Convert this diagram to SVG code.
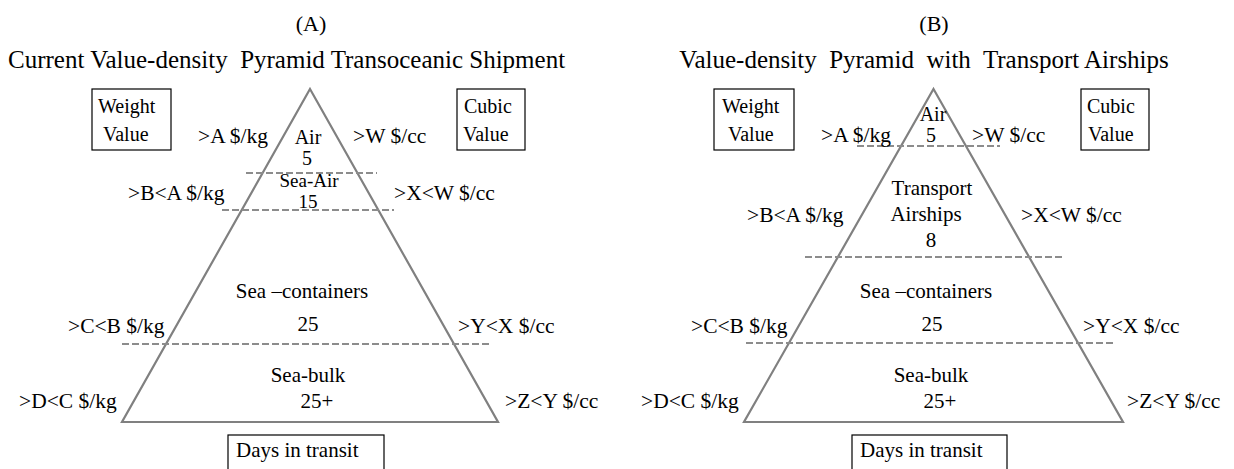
<svg xmlns="http://www.w3.org/2000/svg" width="1234" height="469" viewBox="0 0 1234 469" font-family="'Liberation Serif', 'Times New Roman', Times, serif">
<style>
text{font-family:'Liberation Serif','Times New Roman',Times,serif;fill:#000;white-space:pre}
.hd{font-size:22px;text-anchor:middle}
.tt{font-size:25px}
.lb{font-size:21px}
.sm{font-size:20px}
.xs{font-size:19px}
.sl{font-size:21.5px}
.bx{font-size:20px}
.c{text-anchor:middle}
.box{fill:#fff;stroke:#000;stroke-width:1.2}
.tri{fill:none;stroke:#808080;stroke-width:2.2;stroke-linejoin:miter}
.dash{fill:none;stroke:#8c8c8c;stroke-width:2.2;stroke-dasharray:7 3}
</style>
<rect width="1234" height="469" fill="#fff"/>

<!-- Panel A -->
<g id="panelA">
  <text class="hd" x="311" y="31">(A)</text>
  <text class="tt" x="8" y="68">Current Value-density  Pyramid Transoceanic Shipment</text>
  <g id="A-weight">
    <rect class="box" x="92" y="89" width="79" height="61"/>
    <text class="bx" x="98" y="113">Weight</text>
    <text class="bx" x="103" y="141">Value</text>
  </g>
  <g id="A-cubic">
    <rect class="box" x="457" y="89" width="68" height="61"/>
    <text class="bx" x="464" y="113">Cubic</text>
    <text class="bx" x="463" y="141">Value</text>
  </g>
  <g id="A-pyramid">
    <polygon class="tri" points="310,89 498,422 122,422"/>
  </g>
  <g id="A-connectors">
    <line class="dash" x1="246" y1="173" x2="377" y2="173"/>
    <line class="dash" x1="222" y1="210" x2="394" y2="210"/>
    <line class="dash" x1="122" y1="344" x2="490" y2="344"/>
  </g>
  <g id="A-tier-air">
    <text class="sm c" x="308" y="144">Air</text>
    <text class="sm c" x="307" y="165">5</text>
  </g>
  <g id="A-tier-seaair">
    <text class="xs c" x="309" y="187">Sea-Air</text>
    <text class="xs c" x="308" y="208">15</text>
  </g>
  <g id="A-tier-containers">
    <text class="lb c" x="302" y="298">Sea –containers</text>
    <text class="lb c" x="308" y="331">25</text>
  </g>
  <g id="A-tier-bulk">
    <text class="lb c" x="308" y="382">Sea-bulk</text>
    <text class="lb c" x="317" y="408">25+</text>
  </g>
  <g id="A-left-labels">
    <text class="sl" x="198" y="143">&gt;A $/kg</text>
    <text class="sl" x="128" y="200">&gt;B&lt;A $/kg</text>
    <text class="sl" x="68" y="333">&gt;C&lt;B $/kg</text>
    <text class="sl" x="19" y="408">&gt;D&lt;C $/kg</text>
  </g>
  <g id="A-right-labels">
    <text class="sl" x="353" y="143">&gt;W $/cc</text>
    <text class="sl" x="394" y="200">&gt;X&lt;W $/cc</text>
    <text class="sl" x="458" y="333">&gt;Y&lt;X $/cc</text>
    <text class="sl" x="505" y="408">&gt;Z&lt;Y $/cc</text>
  </g>
  <g id="A-days">
    <rect class="box" x="228" y="435" width="156" height="40"/>
    <text class="lb" x="236" y="457">Days in transit</text>
  </g>
</g>

<!-- Panel B -->
<g id="panelB">
  <text class="hd" x="934" y="31">(B)</text>
  <text class="tt c" x="924" y="68">Value-density  Pyramid  with  Transport Airships</text>
  <g id="B-weight">
    <rect class="box" x="714" y="89" width="80" height="61"/>
    <text class="bx" x="722" y="113">Weight</text>
    <text class="bx" x="728" y="141">Value</text>
  </g>
  <g id="B-cubic">
    <rect class="box" x="1081" y="89" width="68" height="61"/>
    <text class="bx" x="1087" y="113">Cubic</text>
    <text class="bx" x="1088" y="141">Value</text>
  </g>
  <g id="B-pyramid">
    <polygon class="tri" points="933.5,89 1123,422 744,422"/>
  </g>
  <g id="B-connectors">
    <line class="dash" x1="857" y1="146" x2="1000" y2="146"/>
    <line class="dash" x1="805" y1="257" x2="1065" y2="257"/>
    <line class="dash" x1="746" y1="343" x2="1114" y2="343"/>
  </g>
  <g id="B-tier-air">
    <text class="sm c" x="933" y="121">Air</text>
    <text class="sm c" x="931" y="142">5</text>
  </g>
  <g id="B-tier-airships">
    <text class="lb c" x="932" y="195">Transport</text>
    <text class="lb c" x="926" y="221">Airships</text>
    <text class="lb c" x="931" y="247">8</text>
  </g>
  <g id="B-tier-containers">
    <text class="lb c" x="926" y="298">Sea –containers</text>
    <text class="lb c" x="932" y="331">25</text>
  </g>
  <g id="B-tier-bulk">
    <text class="lb c" x="931" y="382">Sea-bulk</text>
    <text class="lb c" x="940" y="408">25+</text>
  </g>
  <g id="B-left-labels">
    <text class="sl" x="821" y="142">&gt;A $/kg</text>
    <text class="sl" x="747" y="222">&gt;B&lt;A $/kg</text>
    <text class="sl" x="691" y="333">&gt;C&lt;B $/kg</text>
    <text class="sl" x="641" y="408">&gt;D&lt;C $/kg</text>
  </g>
  <g id="B-right-labels">
    <text class="sl" x="972" y="142">&gt;W $/cc</text>
    <text class="sl" x="1021" y="222">&gt;X&lt;W $/cc</text>
    <text class="sl" x="1083" y="333">&gt;Y&lt;X $/cc</text>
    <text class="sl" x="1127" y="408">&gt;Z&lt;Y $/cc</text>
  </g>
  <g id="B-days">
    <rect class="box" x="852" y="435" width="155" height="40"/>
    <text class="lb" x="860" y="457">Days in transit</text>
  </g>
</g>
</svg>
